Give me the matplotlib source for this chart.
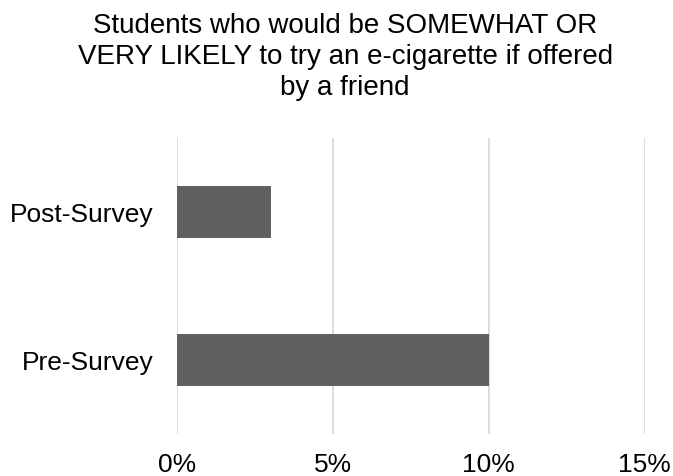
import matplotlib.pyplot as plt

plt.rcParams['font.family'] = ['Liberation Sans', 'DejaVu Sans']

# Datos
categorias = ['Pre-Survey', 'Post-Survey']
valores = [10, 3]    # porcentaje de estudiantes
ticks_x = [0, 5, 10, 15]
etiquetas_x = ['0%', '5%', '10%', '15%']
titulo = ('Students who would be SOMEWHAT OR\n'
          'VERY LIKELY to try an e-cigarette if offered\n'
          'by a friend')

fig = plt.figure(figsize=(6.73, 4.77), dpi=100)
ax = fig.add_axes([0.263, 0.088, 0.695, 0.621])

ax.barh(range(len(categorias)), valores, height=0.354, color='#606060', zorder=3)

ax.set_xlim(0, 15)
ax.set_ylim(-0.5, 1.5)
ax.set_xticks(ticks_x)
ax.set_xticklabels(etiquetas_x)
ax.set_yticks(range(len(categorias)))
ax.set_yticklabels(categorias)
ax.tick_params(axis='x', length=0, pad=13, labelsize=19)
ax.tick_params(axis='y', length=0, pad=17, labelsize=19)

ax.grid(axis='x', color='#d9d9d9', linewidth=1.3, zorder=0)
for s in ax.spines.values():
    s.set_visible(False)

fig.text(0.513, 0.972, titulo, ha='center', va='top', fontsize=20, linespacing=1.24)

fig.savefig('out.png', dpi=100)
